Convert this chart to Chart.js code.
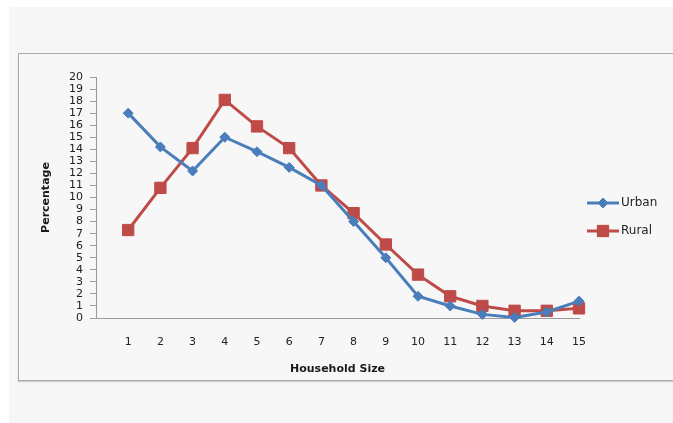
<!DOCTYPE html>
<html lang="en">
<head>
    <meta charset="UTF-8">
    <title>Household Size</title>
    <script src="https://cdn.jsdelivr.net/npm/chart.js"></script>
    <style>
        body { margin: 0; background: #fff; width: 673px; height: 423px; overflow: hidden; position: relative; }
        .backdrop { position: absolute; left: 9px; top: 7px; width: 664px; height: 416px; background: #f6f6f6; }
        .frame {
            position: absolute; left: 18px; top: 53px; width: 670px; height: 326px;
            border: 1px solid #a9a9a9; background: #f7f7f7;
            box-shadow: 0 1px 1px rgba(0,0,0,0.15);
        }
        .chart-wrapper { position: absolute; left: 0; top: 0; width: 673px; height: 423px; }
    </style>
</head>
<body>
    <div class="backdrop"></div>
    <div class="frame"></div>
    <div class="chart-wrapper"><canvas id="chart" width="673" height="423"></canvas></div>

    <script>
        const householdSizes = [1, 2, 3, 4, 5, 6, 7, 8, 9, 10, 11, 12, 13, 14, 15];
        const urban = [17.0, 14.2, 12.2, 15.0, 13.8, 12.5, 11.0, 8.0, 5.0, 1.8, 1.0, 0.3, 0.05, 0.5, 1.4];
        const rural = [7.3, 10.8, 14.1, 18.1, 15.9, 14.1, 11.0, 8.7, 6.1, 3.6, 1.8, 1.0, 0.6, 0.6, 0.8];
        const yTicks = [0, 1, 2, 3, 4, 5, 6, 7, 8, 9, 10, 11, 12, 13, 14, 15, 16, 17, 18, 19, 20];

        const blue = '#4a7ebb';
        const red = '#be4b48';
        const tickFont = { family: 'DejaVu Sans', size: 11 };
        const titleFont = { family: 'DejaVu Sans', size: 11, weight: 'bold' };

        // legend drawn the Excel way: a short line with the marker in the middle
        const sideLegend = {
            id: 'sideLegend',
            afterDraw(chart) {
                const ctx = chart.ctx;
                const items = [
                    { label: 'Urban', color: blue, style: 'rectRot', radius: 5, y: 203 },
                    { label: 'Rural', color: red, style: 'rect', radius: 8, y: 231 }
                ];
                ctx.save();
                items.forEach(it => {
                    ctx.strokeStyle = it.color;
                    ctx.lineWidth = 3;
                    ctx.beginPath();
                    ctx.moveTo(587, it.y);
                    ctx.lineTo(619, it.y);
                    ctx.stroke();
                    ctx.fillStyle = it.color;
                    ctx.lineWidth = 1;
                    Chart.helpers.drawPoint(ctx, { pointStyle: it.style, radius: it.radius, borderWidth: 1, rotation: 0 }, 603, it.y);
                    ctx.fill();
                    ctx.fillStyle = '#222';
                    ctx.font = '12px "DejaVu Sans"';
                    ctx.textBaseline = 'middle';
                    ctx.fillText(it.label, 621, it.y);
                });
                ctx.restore();
            }
        };

        new Chart(document.getElementById('chart'), {
            type: 'line',
            data: {
                datasets: [
                    {
                        label: 'Urban',
                        data: householdSizes.map((x, i) => ({ x: x, y: urban[i] })),
                        borderColor: blue,
                        backgroundColor: blue,
                        borderWidth: 3,
                        pointStyle: 'rectRot',
                        pointRadius: 5,
                        pointBorderWidth: 1,
                        clip: false
                    },
                    {
                        label: 'Rural',
                        data: householdSizes.map((x, i) => ({ x: x, y: rural[i] })),
                        borderColor: red,
                        backgroundColor: red,
                        borderWidth: 3,
                        pointStyle: 'rect',
                        pointRadius: 8,
                        pointBorderWidth: 1,
                        clip: false
                    }
                ]
            },
            options: {
                responsive: false,
                animation: false,
                devicePixelRatio: 1,
                layout: { padding: { top: 77, right: 94, left: 0, bottom: 0 } },
                plugins: { legend: { display: false }, tooltip: { enabled: false } },
                scales: {
                    x: {
                        type: 'linear',
                        min: 0,
                        max: 15,
                        afterBuildTicks: scale => {
                            scale.ticks = householdSizes.map(v => ({ value: v }));
                        },
                        afterFit: scale => { scale.height = 105; },
                        grid: { display: false, drawTicks: false },
                        border: { display: true, color: '#9a9a9a', width: 1 },
                        ticks: {
                            padding: 18,
                            color: '#222',
                            font: tickFont,
                            autoSkip: false,
                            maxRotation: 0
                        },
                        title: {
                            display: true,
                            text: 'Household Size',
                            color: '#1a1a1a',
                            font: titleFont,
                            padding: { top: 0, bottom: 47 }
                        }
                    },
                    y: {
                        min: 0,
                        max: 20,
                        afterBuildTicks: scale => {
                            scale.ticks = yTicks.map(v => ({ value: v }));
                        },
                        afterFit: scale => { scale.width = 96; },
                        grid: { drawOnChartArea: false, drawTicks: true, tickLength: 6, color: '#9a9a9a' },
                        border: { display: true, color: '#9a9a9a', width: 1 },
                        ticks: {
                            padding: 7,
                            color: '#222',
                            font: tickFont,
                            autoSkip: false
                        },
                        title: {
                            display: true,
                            text: 'Percentage',
                            color: '#1a1a1a',
                            font: titleFont,
                            padding: { top: 40, bottom: 0 }
                        }
                    }
                }
            },
            plugins: [sideLegend]
        });
    </script>
</body>
</html>
